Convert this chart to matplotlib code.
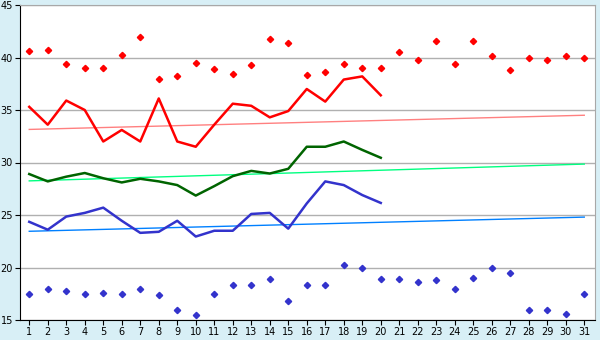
import matplotlib
matplotlib.use("Agg")
from matplotlib import pyplot as plt

# days of the month
days = list(range(1, 32))
line_days = list(range(1, 21))

# daily maximum points (red diamonds)
max_pts = [40.6, 40.7, 39.4, 39.0, 39.0, 40.2, 42.0, 38.0, 38.2, 39.5,
           38.9, 38.4, 39.3, 41.8, 41.4, 38.3, 38.6, 39.4, 39.0, 39.0,
           40.5, 39.8, 41.6, 39.4, 41.6, 40.1, 38.8, 40.0, 39.8, 40.1, 40.0]

# daily minimum points (blue diamonds)
min_pts = [17.5, 18.0, 17.8, 17.5, 17.6, 17.5, 18.0, 17.4, 16.0, 15.5,
           17.5, 18.3, 18.3, 18.9, 16.8, 18.3, 18.3, 20.2, 20.0, 18.9,
           18.9, 18.6, 18.8, 18.0, 19.0, 20.0, 19.5, 16.0, 16.0, 15.6, 17.5]

# measured lines (first 20 days)
red_line = [35.3, 33.6, 35.9, 35.0, 32.0, 33.1, 32.0, 36.1, 32.0, 31.5,
            33.6, 35.6, 35.4, 34.3, 34.9, 37.0, 35.8, 37.9, 38.2, 36.4]
green_line = [28.9, 28.2, 28.65, 29.0, 28.5, 28.1, 28.45, 28.2, 27.85, 26.85,
              27.75, 28.7, 29.2, 28.95, 29.4, 31.5, 31.5, 32.0, 31.2, 30.45]
blue_line = [24.35, 23.6, 24.85, 25.2, 25.7, 24.45, 23.3, 23.4, 24.45, 22.95,
             23.5, 23.5, 25.1, 25.2, 23.7, 26.1, 28.2, 27.85, 26.9, 26.15]

# trend lines: value at day 1 and day 31
trend_days = [1, 31]
red_trend = [33.15, 34.5]
green_trend = [28.25, 29.85]
blue_trend = [23.45, 24.8]

fig = plt.figure(figsize=(6, 3.4), dpi=100, facecolor="#d8eff6")
ax = fig.add_axes([20 / 600, 20 / 340, 575 / 600, 315 / 340])
ax.set_facecolor("white")

# trends first so the lines sit on top
ax.plot(trend_days, red_trend, color="#ff8080", lw=1)
ax.plot(trend_days, green_trend, color="#00ff80", lw=1)
ax.plot(trend_days, blue_trend, color="#0080ff", lw=1)

ax.plot(line_days, red_line, color="#ff0000", lw=1.8)
ax.plot(line_days, green_line, color="#006400", lw=1.8)
ax.plot(line_days, blue_line, color="#3333cc", lw=1.8)

ax.plot(days, max_pts, ls="none", marker="D", ms=3.2, color="#ff0000")
ax.plot(days, min_pts, ls="none", marker="D", ms=3.2, color="#3333cc")

ax.set_xlim(0.5, 31.58)
ax.set_ylim(15, 45)
ax.set_xticks(days)
ax.set_yticks([15, 20, 25, 30, 35, 40, 45])
ax.tick_params(labelsize=7, length=3.5, color="black", pad=1.5)
ax.yaxis.grid(True, color="#b0b0b0", lw=1)
ax.set_axisbelow(True)

for side in ["top", "right"]:
    ax.spines[side].set_color("#a8a8a8")
for side in ["left", "bottom"]:
    ax.spines[side].set_color("black")

fig.savefig("out.png", dpi=100, facecolor=fig.get_facecolor())
